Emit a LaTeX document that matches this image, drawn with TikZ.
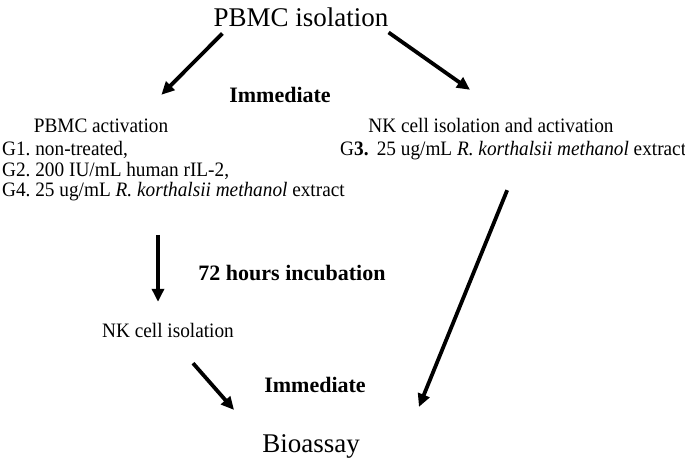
\documentclass[tikz,border=0pt]{standalone}
\usepackage{fontspec}
\setmainfont{Liberation Serif}
\newfontfamily\condserif{Liberation Serif}[FakeStretch=0.94]
\usetikzlibrary{positioning,arrows.meta}
\frenchspacing

\begin{document}
\begin{tikzpicture}[x=1pt,y=-1pt,
    txt/.style={inner sep=0pt,font=\condserif\fontsize{20.5}{24}\selectfont,
                text height=14pt,text depth=5pt},
    lbl/.style={inner sep=0pt,font=\fontsize{22}{26}\selectfont\bfseries},
    big/.style={inner sep=0pt,font=\fontsize{27}{31}\selectfont},
    arr/.style={-{Triangle[length=13pt,width=12pt]},line width=3.8pt}]
\useasboundingbox (0,0) rectangle (685,462);
\node[big,anchor=base]      (iso)   at (301,27)  {PBMC isolation};
\node[lbl,anchor=base]      (imm1)  at (280,103) {Immediate};
\node[txt,anchor=base]      (pact)  at (101,133) {PBMC activation};
\node[txt,anchor=base west] (g1)    at (2,156)   {G1. non-treated,};
\node[txt,below right=1pt and 0pt of g1.south west] (g2) {G2. 200 IU/mL human rIL-2,};
\node[txt,below right=1pt and 0pt of g2.south west] (g4) {G4. 25 ug/mL \textit{R. korthalsii methanol} extract};
\node[txt,anchor=base]      (nkact) at (491,133) {NK cell isolation and activation};
\node[txt,anchor=base west] (g3)    at (340,156) {G\textbf{3.}\ \,25 ug/mL \textit{R. korthalsii methanol} extract};
\node[lbl,anchor=base]      (inc)   at (292,280) {72 hours incubation};
\node[txt,anchor=base]      (nkiso) at (168,337) {NK cell isolation};
\node[lbl,anchor=base]      (imm2)  at (315,392) {Immediate};
\node[big,anchor=base]      (bio)   at (311,452) {Bioassay};
% arrows
\draw[arr]([xshift=9pt,yshift=-6pt]iso.south west)--([xshift=-7pt,yshift=24pt]pact.north east);
\draw[arr]([yshift=-5pt]iso.south east)--([xshift=-21pt,yshift=29pt]nkact.north);
\draw[arr]([xshift=-10pt,yshift=88pt]nkiso.north)--([xshift=-10pt,yshift=21pt]nkiso.north);
\draw[arr]([xshift=25pt,yshift=-21pt]nkiso.south)--([xshift=-28pt,yshift=24pt]bio.north west);
\draw[arr]([xshift=-6pt,yshift=-29pt]g3.south)--([xshift=59pt,yshift=27pt]bio.north east);
\end{tikzpicture}
\end{document}
